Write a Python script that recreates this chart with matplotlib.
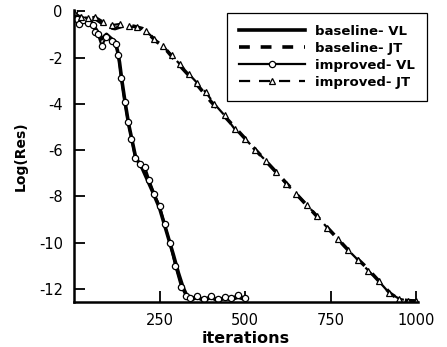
import matplotlib
matplotlib.use("Agg")
import matplotlib.pyplot as plt

# convergence histories
base_vl_x = [0, 5, 12, 20, 35, 50, 65, 80, 95, 110, 120, 127, 133, 140, 150, 160, 170, 180,
             190, 200, 215, 230, 250, 270, 290, 305, 318, 330, 345, 360, 380, 400, 420,
             440, 460, 480, 500]
base_vl_y = [0, -0.3, -0.5, -0.35, -0.3, -0.45, -0.8, -1.2, -1.0, -1.2, -1.3, -1.7, -2.2,
             -3.0, -4.0, -4.9, -5.6, -6.3, -6.55, -6.8, -7.3, -7.8, -8.5, -9.5, -10.5,
             -11.3, -11.9, -12.3, -12.45, -12.35, -12.5, -12.35, -12.5, -12.4, -12.45,
             -12.35, -12.45]

imp_vl_x = [0, 8, 15, 25, 40, 55, 62, 70, 81, 95, 110, 122, 130, 138, 148, 158, 168, 179,
            192, 208, 220, 235, 250, 265, 280, 296, 313, 328, 340, 360, 380, 400, 420, 440,
            460, 480, 500]
imp_vl_y = [0, -0.35, -0.55, -0.4, -0.5, -0.6, -0.9, -1.0, -1.5, -1.1, -1.3, -1.4, -1.9,
            -2.9, -3.9, -4.8, -5.5, -6.35, -6.6, -6.75, -7.3, -7.9, -8.4, -9.2, -10.0,
            -11.0, -11.9, -12.3, -12.4, -12.3, -12.45, -12.3, -12.45, -12.35, -12.4,
            -12.25, -12.4]

base_jt_x = [0, 10, 25, 40, 60, 80, 100, 120, 150, 175, 200, 220, 240, 260, 280, 300, 325,
             350, 375, 400, 450, 500, 550, 600, 650, 700, 750, 800, 850, 900, 925, 950,
             975, 1000]
base_jt_y = [-0.1, -0.3, -0.2, -0.25, -0.3, -0.5, -0.7, -0.75, -0.6, -0.65, -0.75, -1.0,
             -1.3, -1.5, -1.85, -2.2, -2.6, -3.0, -3.45, -3.9, -4.7, -5.5, -6.3, -7.1,
             -7.9, -8.7, -9.5, -10.3, -11.0, -11.8, -12.2, -12.45, -12.5, -12.52]

imp_jt_x = [0, 20, 40, 62, 85, 110, 135, 160, 185, 210, 235, 260, 285, 310, 335, 360, 385,
            410, 440, 470, 500, 530, 560, 590, 620, 650, 680, 710, 740, 770, 800, 830, 860,
            890, 920, 950, 975, 1000]
imp_jt_y = [-0.05, -0.25, -0.3, -0.24, -0.45, -0.6, -0.55, -0.65, -0.7, -0.85, -1.2, -1.5,
            -1.9, -2.3, -2.7, -3.1, -3.5, -4.0, -4.5, -5.1, -5.5, -6.0, -6.45, -6.95,
            -7.45, -7.9, -8.35, -8.85, -9.35, -9.85, -10.3, -10.75, -11.2, -11.65, -12.15,
            -12.42, -12.5, -12.5]

plt.rcParams["font.family"] = ["DejaVu Sans"]
plt.rcParams["axes.unicode_minus"] = False

fig = plt.figure(figsize=(4.47, 3.47), dpi=100, facecolor="white")
ax = fig.add_axes([0.1655, 0.1297, 0.7695, 0.8413])

ax.plot(base_vl_x, base_vl_y, color="black", lw=2.6, label="baseline- VL")
ax.plot(base_jt_x, base_jt_y, color="black", lw=2.6, ls=(0, (3, 3)), label="baseline- JT")
ax.plot(imp_vl_x, imp_vl_y, color="black", lw=1.6, marker="o", ms=4.5, mfc="white",
        mew=0.9, label="improved- VL")
ax.plot(imp_jt_x, imp_jt_y, color="black", lw=1.6, ls=(0, (5, 4)), marker="^", ms=5,
        mfc="white", mew=0.9, label="improved- JT")

ax.set_xlim(0, 1005)
ax.set_ylim(-12.56, 0.05)
ax.set_xticks([250, 500, 750, 1000])
ax.set_yticks([0, -2, -4, -6, -8, -10, -12])
ax.spines["top"].set_visible(False)
ax.spines["right"].set_visible(False)
ax.spines["left"].set_linewidth(1.8)
ax.spines["bottom"].set_linewidth(1.8)
ax.tick_params(direction="in", length=8, width=1.3, labelsize=10.5, pad=8)

ax.set_xlabel("iterations", fontsize=11.5, fontweight="bold", labelpad=2)
ax.set_ylabel("Log(Res)", fontsize=10, fontweight="bold", labelpad=8)

leg = ax.legend(loc="upper right", bbox_to_anchor=(0.955, 0.9625),
                bbox_transform=fig.transFigure, borderaxespad=0, fancybox=False,
                framealpha=1, edgecolor="black", handlelength=5.0, handletextpad=0.8,
                borderpad=0.9, labelspacing=0.3, prop={"weight": "bold", "size": 9.5})
leg.get_frame().set_linewidth(0.9)

fig.savefig("out.png", dpi=100, facecolor="white")
